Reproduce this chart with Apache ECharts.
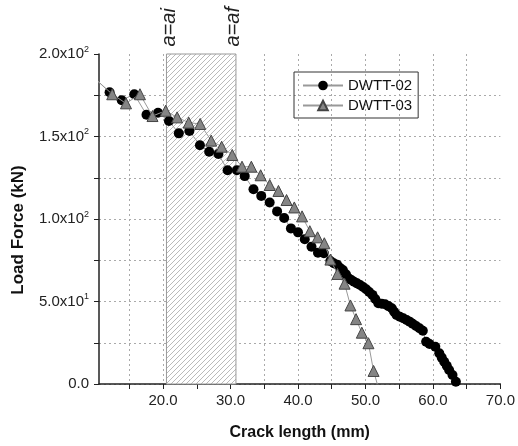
<!DOCTYPE html>
<html><head><meta charset="utf-8">
<script src="https://cdn.jsdelivr.net/npm/echarts@6/dist/echarts.min.js"></script>
<style>html,body{margin:0;padding:0;background:#fff}#c{width:518px;height:446px}</style>
</head><body><div id="c"></div>
<script>
// ---- data ----
const seriesNames = ['DWTT-02', 'DWTT-03'];
const dwtt02X = [10.2,12.07,13.87,15.73,17.54,19.25,20.87,22.33,23.9,25.46,26.83,28.2,29.56,30.94,32.1,33.4,34.55,35.8,36.9,37.95,38.95,40.0,41.0,42.0,42.96,43.84,44.8,45.3,45.8,46.2,46.65,47.1,47.5,47.9,48.3,48.75,49.2,49.65,50.1,50.55,51.03,51.45,51.9,52.4,52.9,53.4,53.9,54.25,54.6,55.1,55.6,56.1,56.55,57.0,57.5,58.0,58.5,58.99,59.5,60.35,60.94,61.3,61.67,62.05,62.4,62.9,63.4];
const dwtt02Y = [184,176.8,172,175.6,163.2,164.4,159.4,151.9,153.3,144.7,140.8,139.4,129.5,129.5,126,118,114,110,104.6,100.6,94.3,91.9,87.7,83.2,79.6,79.2,74.5,73.2,72.3,70.5,69.1,66.5,64.1,63.0,62,61.0,60,58.8,57.4,55.8,54,51.5,48.9,48.6,48.3,47.2,45.9,43.8,41.8,40.8,39.8,38.8,37.8,36.5,35.2,33.8,32.3,25.6,24.2,22.6,18.6,16.0,13.5,11.0,8.5,5.5,1.4];
const dwtt03X = [10.2,12.46,14.5,16.57,18.43,20.38,22.08,23.8,25.5,27.13,28.68,30.25,31.7,33.08,34.46,35.8,37.1,38.3,39.45,40.6,41.75,42.9,43.9,44.8,45.85,46.9,47.77,48.6,49.46,50.44,51.2,51.75];
const dwtt03Y = [184,175.6,170.1,175.6,162.4,165.6,161.6,158.4,157.6,147.5,143.8,138.8,131.7,131.7,126.5,120.6,117,111.5,107,101.6,92.6,88.9,85.3,75.4,66.7,60.8,47.6,39.3,31.1,24.7,7.9,0];
const regionStart = 20.5, regionEnd = 30.8;
const regionLabels = ['a=ai', 'a=af'];
const xTickValues = [15,20,25,30,35,40,45,50,55,60,65,70];
const xLabelValues = [20,30,40,50,60,70];
const yLabelValues = [0,50,100,150,200];
const yLabelMantissa = ['0.0','5.0x10','1.0x10','1.5x10','2.0x10'];
const yLabelExp = ['','1','2','2','2'];
const xTitle = 'Crack length (mm)';
const yTitle = 'Load Force (kN)';

// ---- build ----
function pairs(xs, ys) { return xs.map((x, i) => [x, ys[i]]); }
const d03 = pairs(dwtt03X, dwtt03Y).map((p, i, arr) => i === arr.length - 1 ? { value: p, symbol: 'none' } : p);

const pc = document.createElement('canvas');
pc.width = 5; pc.height = 5;
const g = pc.getContext('2d');
g.fillStyle = '#fff'; g.fillRect(0, 0, 5, 5);
g.strokeStyle = '#a8a8a8'; g.lineWidth = 0.8;
g.beginPath();
g.moveTo(-1, 6); g.lineTo(6, -1);
g.moveTo(-1, 1); g.lineTo(1, -1);
g.moveTo(4, 6); g.lineTo(6, 4);
g.stroke();

const FONT = '"Liberation Sans", Arial, sans-serif';
const chart = echarts.init(document.getElementById('c'), null, { renderer: 'canvas' });
chart.setOption({
  animation: false,
  backgroundColor: '#fff',
  grid: { left: 99, right: 15, top: 54, bottom: 62 },
  legend: {
    orient: 'vertical', left: 294, top: 72,
    borderColor: '#333', borderWidth: 1, padding: [6, 6, 5, 8],
    itemWidth: 40, itemHeight: 12, itemGap: 5,
    textStyle: { fontFamily: FONT, fontSize: 15, color: '#111' },
    data: seriesNames
  },
  xAxis: {
    type: 'value', min: 10.5, max: 70,
    name: xTitle, nameLocation: 'middle', nameGap: 41,
    nameTextStyle: { fontFamily: FONT, fontSize: 16, fontWeight: 'bold', color: '#111' },
    axisLine: { lineStyle: { color: '#222', width: 1.5 } },
    axisTick: { customValues: xTickValues, length: 5, lineStyle: { color: '#222' } },
    axisLabel: { customValues: xLabelValues, formatter: v => v.toFixed(1), fontFamily: FONT, fontSize: 15, color: '#222', margin: 9 },
    splitLine: { show: true, showMaxLine: false, lineStyle: { color: '#aaa', type: [2, 3], width: 1 } }
  },
  yAxis: {
    type: 'value', min: 0, max: 200, interval: 25,
    name: yTitle, nameLocation: 'middle', nameGap: 72,
    nameTextStyle: { fontFamily: FONT, fontSize: 17, fontWeight: 'bold', color: '#111', padding: [0, 0, 0, -22] },
    axisLine: { show: true, lineStyle: { color: '#222', width: 1.5 } },
    axisTick: { show: true, length: 5, lineStyle: { color: '#222' } },
    axisLabel: {
      margin: 10, fontFamily: FONT, color: '#222',
      formatter: v => {
        const i = yLabelValues.indexOf(v);
        if (i < 0) return '';
        return yLabelExp[i] ? '{m|' + yLabelMantissa[i] + '}{e|' + yLabelExp[i] + '}' : '{m|' + yLabelMantissa[i] + '}';
      },
      rich: {
        m: { fontFamily: FONT, fontSize: 15, color: '#222', lineHeight: 18 },
        e: { fontFamily: FONT, fontSize: 9, color: '#222', verticalAlign: 'top', lineHeight: 18 }
      }
    },
    splitLine: { show: true, showMaxLine: false, lineStyle: { color: '#aaa', type: [2, 3], width: 1 } }
  },
  series: [
    {
      name: seriesNames[0], type: 'line', clip: true, z: 3,
      data: pairs(dwtt02X, dwtt02Y),
      symbol: 'circle', symbolSize: 10, showAllSymbol: true,
      itemStyle: { color: '#000' },
      lineStyle: { color: '#999', width: 1 },
      markArea: {
        silent: true, z: 1,
        itemStyle: { color: { image: pc, repeat: 'repeat' }, borderColor: '#999', borderWidth: 1 },
        data: [[{ xAxis: regionStart }, { xAxis: regionEnd }]]
      },
      markPoint: {
        silent: true, symbol: 'circle', symbolSize: 1,
        itemStyle: { color: 'rgba(0,0,0,0)' },
        label: {
          show: true, position: 'top', distance: 7, rotate: 90, align: 'left', verticalAlign: 'middle',
          fontFamily: FONT, fontSize: 20, fontStyle: 'italic', color: '#222'
        },
        data: [
          { coord: [regionStart, 200], label: { formatter: regionLabels[0], offset: [0, 3] } },
          { coord: [regionEnd, 200], label: { formatter: regionLabels[1], offset: [0, -3] } }
        ]
      }
    },
    {
      name: seriesNames[1], type: 'line', clip: true, z: 4,
      data: d03,
      symbol: 'triangle', symbolSize: 11, showAllSymbol: true,
      itemStyle: { color: '#858585', borderColor: '#444', borderWidth: 1 },
      lineStyle: { color: '#999', width: 1 }
    }
  ]
});
</script></body></html>
